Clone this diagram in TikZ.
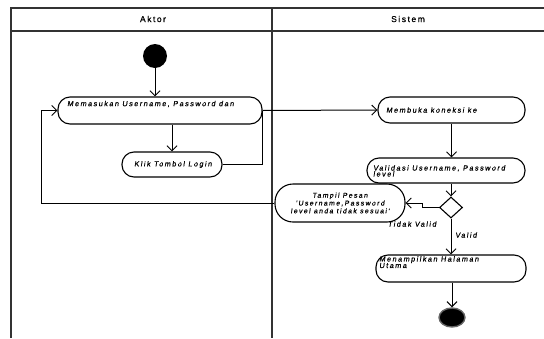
\documentclass[tikz,border=0pt]{standalone}
\usepackage{fontspec}
\setmainfont{Liberation Sans}
\usetikzlibrary{arrows.meta,shapes.geometric}
\newfontfamily\nodefont[LetterSpace=20,FakeSlant=0.15,FakeBold=0.6]{Liberation Sans}
\newfontfamily\headfont[LetterSpace=18,FakeBold=0.8]{Liberation Sans}
\tikzset{
  act/.style={draw, line width=1.1pt, rounded corners=12pt, inner sep=0pt},
  txt/.style={font=\nodefont\fontsize{7.3}{8}\selectfont, inner sep=0pt, align=left},
  lane/.style={line width=1.1pt, draw=black!80},
  arr/.style={line width=1pt, -{Straight Barb[length=5pt,width=10pt,line width=1pt]}},
  ln/.style={line width=1pt},
  hdr/.style={font=\headfont\fontsize{8.5}{9}\selectfont, inner sep=0pt}
}
\begin{document}
\begin{tikzpicture}[x=1pt,y=-1pt]
\useasboundingbox (0,0) rectangle (544,338);
% swimlanes
\draw[lane] (11,338) -- (11,8) -- (544,8);
\draw[lane] (11,31) -- (544,31);
\draw[lane] (272,8) -- (272,338);
\node[hdr] (ha) at (153,19) {Aktor};
\node[hdr] (hs) at (408,19) {Sistem};
% nodes
\node[circle, fill=black, minimum size=24pt, inner sep=0pt] (start) at (155,56) {};
\node[act, minimum width=204pt, minimum height=27pt] (n1) at (160,110.5) {};
\node[txt, anchor=west] (t1) at (67,104) {Memasukan Username, Password dan};
\node[act, minimum width=100pt, minimum height=25pt] (n2) at (172,164.5) {};
\node[txt] (t2) at (173,164.5) {Klik Tombol Login};
\node[act, minimum width=147pt, minimum height=26pt] (n3) at (451.5,110) {};
\node[txt, anchor=west] (t3) at (386,110) {Membuka koneksi ke};
\node[act, minimum width=158pt, minimum height=25pt] (n4) at (446,170.5) {};
\node[txt, anchor=north west] (t4) at (373,165) {Validasi Username, Password\\[-2pt]level};
\node[draw, line width=1.1pt, diamond, minimum width=23pt, minimum height=21pt, inner sep=0pt] (d) at (451,207.5) {};
\node[act, rounded corners=18pt, minimum width=130pt, minimum height=38pt] (n5) at (340,203) {};
\node[txt, align=center, font=\nodefont\fontsize{6.9}{7.8}\selectfont] (t5) at (340,203) {Tampil Pesan\\'Username,Password\\level anda tidak sesuai'};
\node[act, minimum width=150pt, minimum height=27pt] (n6) at (451,268.5) {};
\node[txt, anchor=north west] (t6) at (379,256) {Menampilkan Halaman\\[-1.5pt]Utama};
\node[ellipse, fill=black, draw=black!60, line width=1.4pt, minimum width=26pt, minimum height=19pt, inner sep=0pt] (end) at (452,317.5) {};
% labels
\node[txt] (lt) at (412,224) {Tidak Valid};
\node[txt] (lv) at (466,235) {Valid};
% connectors
\coordinate (lp) at (41,0);
\coordinate (jg) at (422,0);
\draw[arr] (start) -- (start |- n1.north);
\draw[arr] (n1.south -| n2.north) -- (n2.north);
\draw[ln] (n2.east) -| (n1.east);
\draw[arr] (n1.east) -- (n3.west);
\draw[arr] (n3.south) -- (n3.south |- n4.north);
\draw[arr] (n4.south -| d.north) -- (d.north);
\draw[arr] (d.west) -- (jg |- d.west) -- (jg |- n5.east) -- (n5.east);
\draw[arr] (n5.west) -| (lp |- n1.west) -- (n1.west);
\draw[arr] (d.south) -- (d.south |- n6.north);
\draw[arr] (n6.south -| end.north) -- (end.north);
\end{tikzpicture}
\end{document}
